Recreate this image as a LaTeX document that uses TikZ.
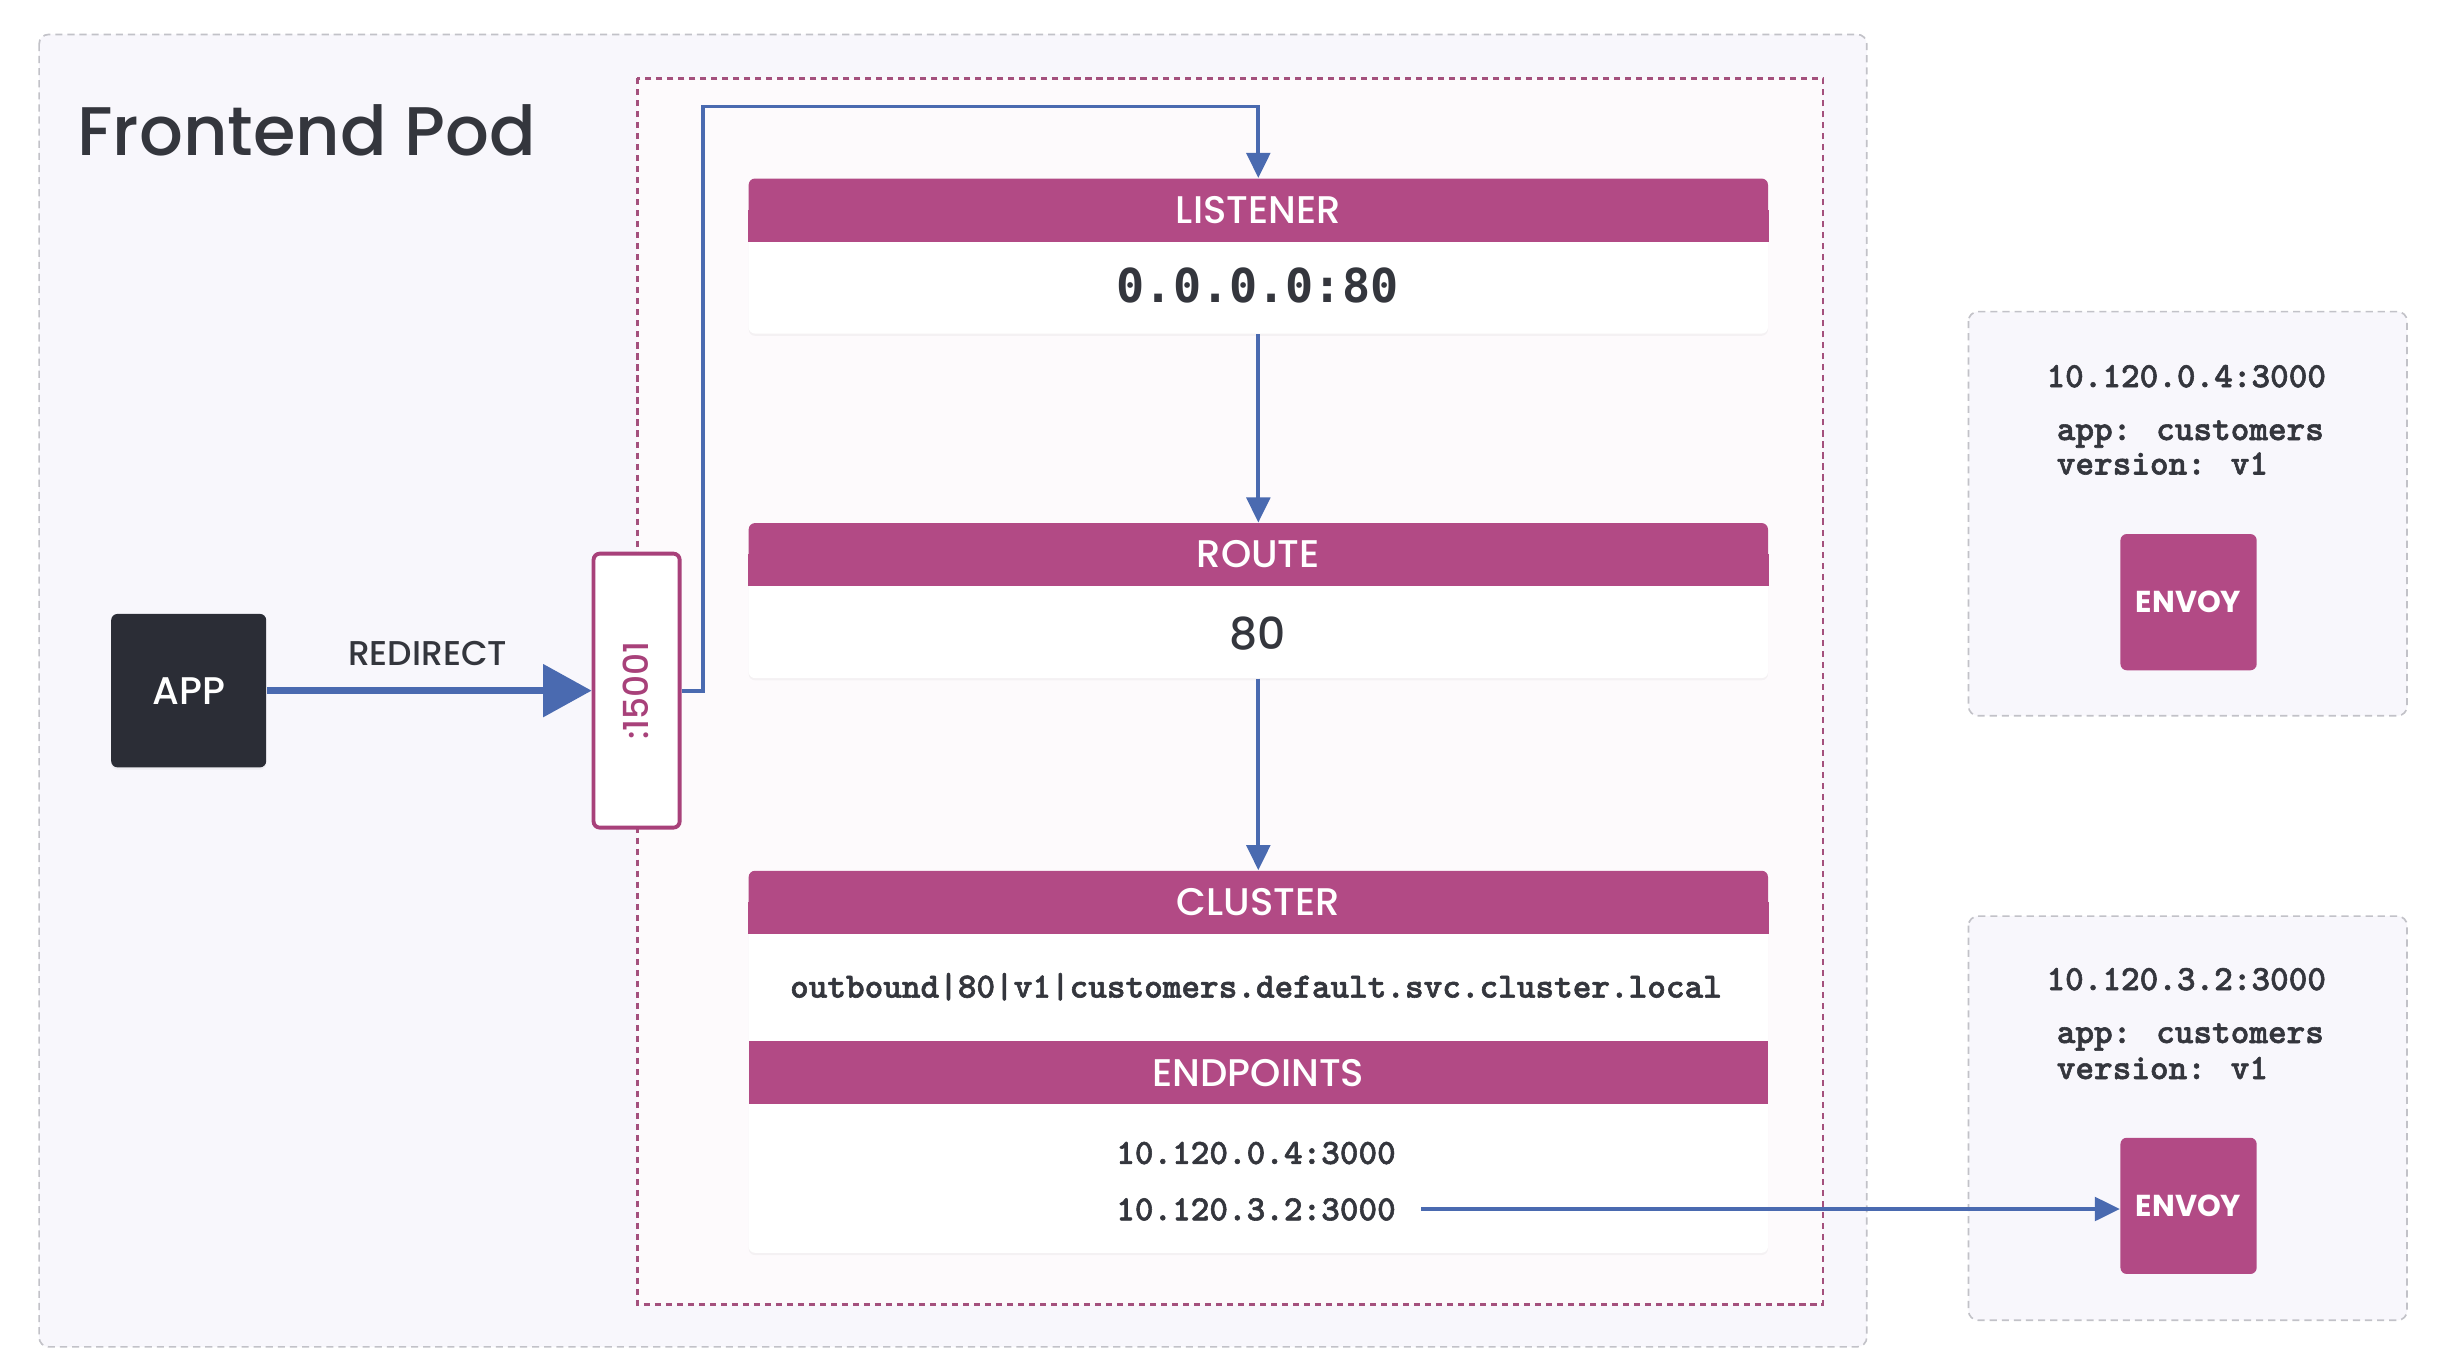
\documentclass[tikz,border=0pt]{standalone}
\usepackage{fontspec}
\setmainfont{Poppins}
\newfontfamily\popmed{Poppins Medium}
\newfontfamily\dejamono{DejaVu Sans Mono}
\newfontfamily\lmmonob{lmmonolt10-bold}[Extension=.otf, FakeBold=1.6]
\usetikzlibrary{arrows.meta,shadows}
\definecolor{pinkh}{HTML}{B24A85}
\definecolor{flowblue}{HTML}{4A6AB0}
\definecolor{appdark}{HTML}{2B2D36}
\definecolor{podfill}{HTML}{F8F7FC}
\definecolor{podline}{HTML}{C2C2C8}
\definecolor{boxfill}{HTML}{FDFAFC}
\definecolor{boxline}{HTML}{A4507D}
\definecolor{txt}{HTML}{34363D}
\definecolor{porttxt}{HTML}{A8417A}
\begin{document}
\begin{tikzpicture}[x=0.02cm, y=-0.02cm,
  pod/.style={draw=podline, fill=podfill, line width=0.6pt, dash pattern=on 2.6pt off 1.8pt, rounded corners=0.12cm},
  sidecar/.style={draw=boxline, fill=boxfill, line width=0.9pt, dash pattern=on 2.2pt off 1.8pt},
  card/.style={fill=white, rounded corners=0.08cm, minimum width=13.02cm, inner sep=0pt,
    drop shadow={shadow xshift=0pt, shadow yshift=-0.8pt, opacity=0.07}},
  hdr/.style={fill=pinkh, rounded corners=0.08cm, minimum width=13.02cm, minimum height=0.8cm, inner sep=0pt},
  ephdr/.style={fill=pinkh, minimum width=13.02cm, minimum height=0.8cm, inner sep=0pt},
  hdrtxt/.style={text=white, font=\popmed\fontsize{14}{16}\selectfont, text height=9.8pt, text depth=0pt, inner sep=0pt},
  bigmono/.style={text=txt, font=\dejamono\bfseries\fontsize{17}{20}\selectfont, text height=12.4pt, text depth=0pt, inner sep=0pt},
  mono/.style={text=txt, font=\lmmonob\fontsize{12.9}{15}\selectfont, inner sep=0pt},
  monodig/.style={mono, text height=8.2pt, text depth=0pt},
  flow/.style={draw=flowblue, line width=1.4pt, -{Triangle[length=0.32cm,width=0.3cm]}},
  redir/.style={draw=flowblue, line width=2.4pt, -{Triangle[length=0.62cm,width=0.66cm]}},
  lbl/.style={text=txt, font=\popmed\fontsize{12.5}{15}\selectfont, text height=8.8pt, text depth=0pt, inner sep=0pt},
  envoy/.style={fill=pinkh, rounded corners=0.08cm, minimum width=1.74cm, minimum height=1.74cm, inner sep=0pt,
    text=white, font=\bfseries\fontsize{11}{13}\selectfont},
]
\useasboundingbox (0,0) rectangle (1567,862);
\fill[white] (0,0) rectangle (1567,862);

% frontend pod
\path[pod] (25,22) rectangle (1192,860);
\node[anchor=west, inner sep=0pt, text=txt, font=\popmed\fontsize{25}{30}\selectfont, text height=17.5pt, text depth=0pt] (title) at (49,84) {Frontend Pod};

% sidecar (dashed pink box)
\path[sidecar] (407,50) rectangle (1164,833);

% listener
\node[card, minimum height=1.98cm] (lcard) at (803.5,163.5) {};
\node[hdr, anchor=north] (lhdr) at (lcard.north) {};
\fill[pinkh] (lhdr.west) rectangle (lhdr.south east);
\node[hdrtxt] (ltxt) at (lhdr.center) {LISTENER};
\node[bigmono] (lval) at (803,182) {0.0.0.0:80};

% route
\node[card, minimum height=1.98cm] (rcard) at (803.5,383.5) {};
\node[hdr, anchor=north] (rhdr) at (rcard.north) {};
\fill[pinkh] (rhdr.west) rectangle (rhdr.south east);
\node[hdrtxt] (rtxt) at (rhdr.center) {ROUTE};
\node[text=txt, font=\popmed\fontsize{16}{19}\selectfont, text height=11.2pt, text depth=0pt, inner sep=0pt] (rval) at (803,405) {80};

% cluster
\node[card, minimum height=4.88cm] (ccard) at (803.5,678) {};
\node[hdr, anchor=north] (chdr) at (ccard.north) {};
\fill[pinkh] (chdr.west) rectangle (chdr.south east);
\node[hdrtxt] (ctxt) at (chdr.center) {CLUSTER};
\node[mono, anchor=base] (cval) at (802,637) {outbound|80|v1|customers.default.svc.cluster.local};
\node[ephdr] (ephdr) at (803.5,685) {};
\node[hdrtxt] (eptxt) at (ephdr.center) {ENDPOINTS};
\node[monodig] (ep1) at (802,736) {10.120.0.4:3000};
\node[monodig, inner xsep=0.32cm] (ep2) at (802,772) {10.120.3.2:3000};

% app and port
\node[fill=appdark, rounded corners=0.08cm, minimum width=1.98cm, minimum height=1.96cm, inner sep=0pt,
  text=white, font=\popmed\fontsize{14}{16}\selectfont, drop shadow={shadow xshift=0pt, shadow yshift=-0.8pt, opacity=0.08}] (app) at (120.5,441) {APP};
\node[draw=porttxt, fill=white, line width=1.4pt, rounded corners=0.08cm, minimum width=1.1cm, minimum height=3.5cm, inner sep=0pt] (port) at (406.5,441) {};
\node[rotate=90, text=porttxt, font=\popmed\fontsize{12.5}{14}\selectfont, text height=8.8pt, text depth=0pt, inner sep=0pt] (porttext) at (port.center) {:15001};
\node[lbl] (redirlbl) at (273,417) {REDIRECT};
\draw[redir] (app.east) -- (port.west);

% flows
\coordinate (bend) at (449,68);
\draw[flow] (port.east) -- (port.east -| bend) -- (bend) -| (lcard.north);
\draw[flow] (lcard.south) -- (rcard.north);
\draw[flow] (rcard.south) -- (ccard.north);

% right pods
\path[pod] (1257,199) rectangle (1537,457);
\node[monodig] (ipa) at (1396,240) {10.120.0.4:3000};
\node[mono, anchor=base west] (appa) at (1313,281) {app: customers};
\node[mono, anchor=base west] (vera) at (1313,303) {version: v1};
\node[envoy] (eva) at (1397.5,384.5) {ENVOY};

\path[pod] (1257,585) rectangle (1537,843);
\node[monodig] (ipb) at (1396,625) {10.120.3.2:3000};
\node[mono, anchor=base west] (appb) at (1313,666) {app: customers};
\node[mono, anchor=base west] (verb) at (1313,689) {version: v1};
\node[envoy] (evb) at (1397.5,770) {ENVOY};

\draw[flow] (ep2.east) -- (ep2.east -| evb.west);
\end{tikzpicture}
\end{document}
